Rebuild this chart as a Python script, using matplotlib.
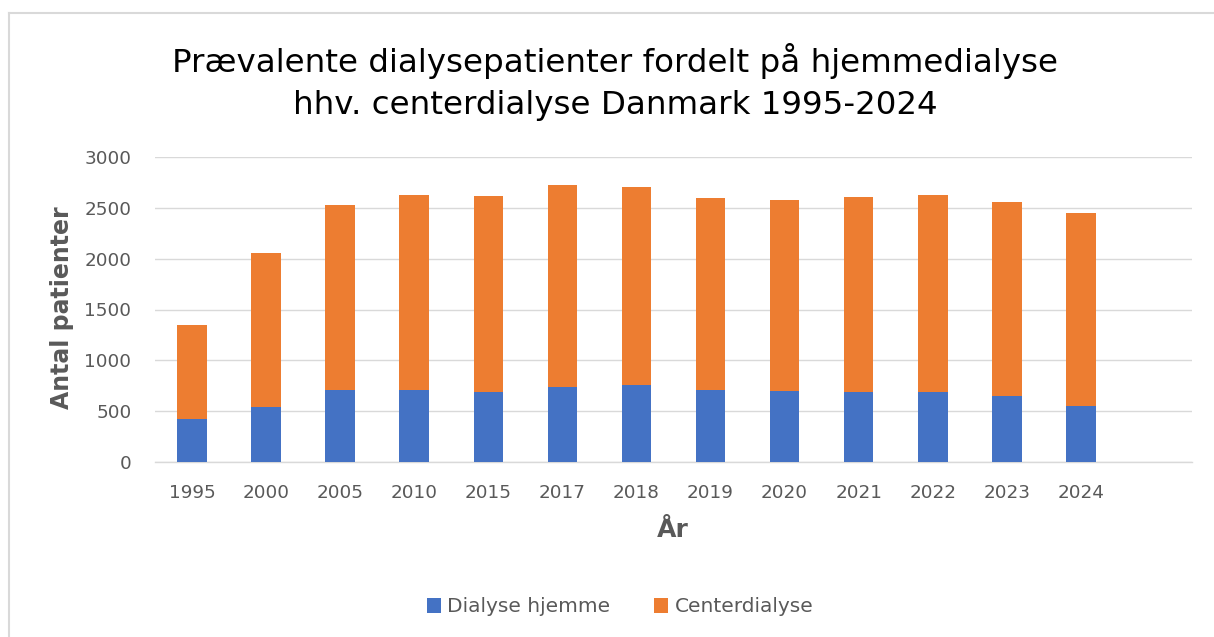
import matplotlib
matplotlib.use("Agg")
import matplotlib.pyplot as plt
from matplotlib.lines import Line2D
import numpy as np

years = ["1995", "2000", "2005", "2010", "2015", "2017", "2018", "2019",
         "2020", "2021", "2022", "2023", "2024", ""]
home = [420, 541, 712, 709, 692, 741, 754, 712, 695, 692, 689, 649, 551]
center = [925, 1516, 1814, 1915, 1925, 1988, 1946, 1889, 1883, 1912, 1942, 1909, 1899]

title_lines = ["Prævalente dialysepatienter fordelt på hjemmedialyse",
               "hhv. centerdialyse Danmark 1995-2024"]
series_names = ["Dialyse hjemme", "Centerdialyse"]
yticks = [0, 500, 1000, 1500, 2000, 2500, 3000]

BLUE = "#4472C4"
ORANGE = "#ED7D31"
GRAY = "#595959"
GRID = "#D9D9D9"

plt.rcParams['font.family'] = ['DejaVu Sans']

W, H = 1214, 637
fig = plt.figure(figsize=(W / 100, H / 100), dpi=100)
fig.patch.set_facecolor("white")

ax = fig.add_axes([155 / W, 1 - 462 / H, (1192 - 155) / W, (462 - 157) / H])

x = np.arange(len(home))
ax.bar(x, home, width=0.4, color=BLUE, label=series_names[0], zorder=3)
ax.bar(x, center, width=0.4, bottom=home, color=ORANGE, label=series_names[1], zorder=3)

ax.set_xlim(-0.5, len(years) - 0.5)
ax.set_ylim(0, 3000)
ax.set_xticks(np.arange(len(years)))
ax.set_xticklabels(years)
ax.set_yticks(yticks)
ax.set_yticklabels([str(v) for v in yticks])
ax.tick_params(axis='both', length=0, colors=GRAY, labelsize=13.2)
ax.tick_params(axis='y', pad=17)
ax.tick_params(axis='x', pad=15.5)
for lab in ax.get_xticklabels() + ax.get_yticklabels():
    lab.set_color(GRAY)

ax.grid(axis='y', color=GRID, linewidth=1.0, zorder=0)
for s in ["top", "right", "left"]:
    ax.spines[s].set_visible(False)
ax.spines["bottom"].set_color(GRID)
ax.spines["bottom"].set_linewidth(1.0)

# axis titles
fig.text(673 / W, 1 - 530 / H, "År", ha='center', va='center',
         fontsize=18, fontweight='bold', color=GRAY)
fig.text(62 / W, 1 - 308 / H, "Antal patienter", ha='center', va='center',
         rotation=90, fontsize=17, fontweight='bold', color=GRAY)

# title
fig.text(615 / W, 1 - 72 / H, title_lines[0], ha='center', va='baseline',
         fontsize=23.4, color='black')
fig.text(615 / W, 1 - 114 / H, title_lines[1], ha='center', va='baseline',
         fontsize=23.4, color='black')

# legend
leg = fig.legend(loc='center', bbox_to_anchor=(620 / W, 1 - 607 / H), ncol=2,
                 frameon=False, fontsize=14.5, handlelength=0.7, handleheight=0.7,
                 handletextpad=0.3, columnspacing=2.2)
for t in leg.get_texts():
    t.set_color(GRAY)

# chart border (top and left visible)
fig.add_artist(Line2D([9 / W, 1.0], [1 - 13 / H, 1 - 13 / H], color=GRID,
                      linewidth=1.5, transform=fig.transFigure))
fig.add_artist(Line2D([9 / W, 9 / W], [0, 1 - 13 / H], color=GRID,
                      linewidth=1.5, transform=fig.transFigure))

fig.savefig("out.png", dpi=100, facecolor="white")
